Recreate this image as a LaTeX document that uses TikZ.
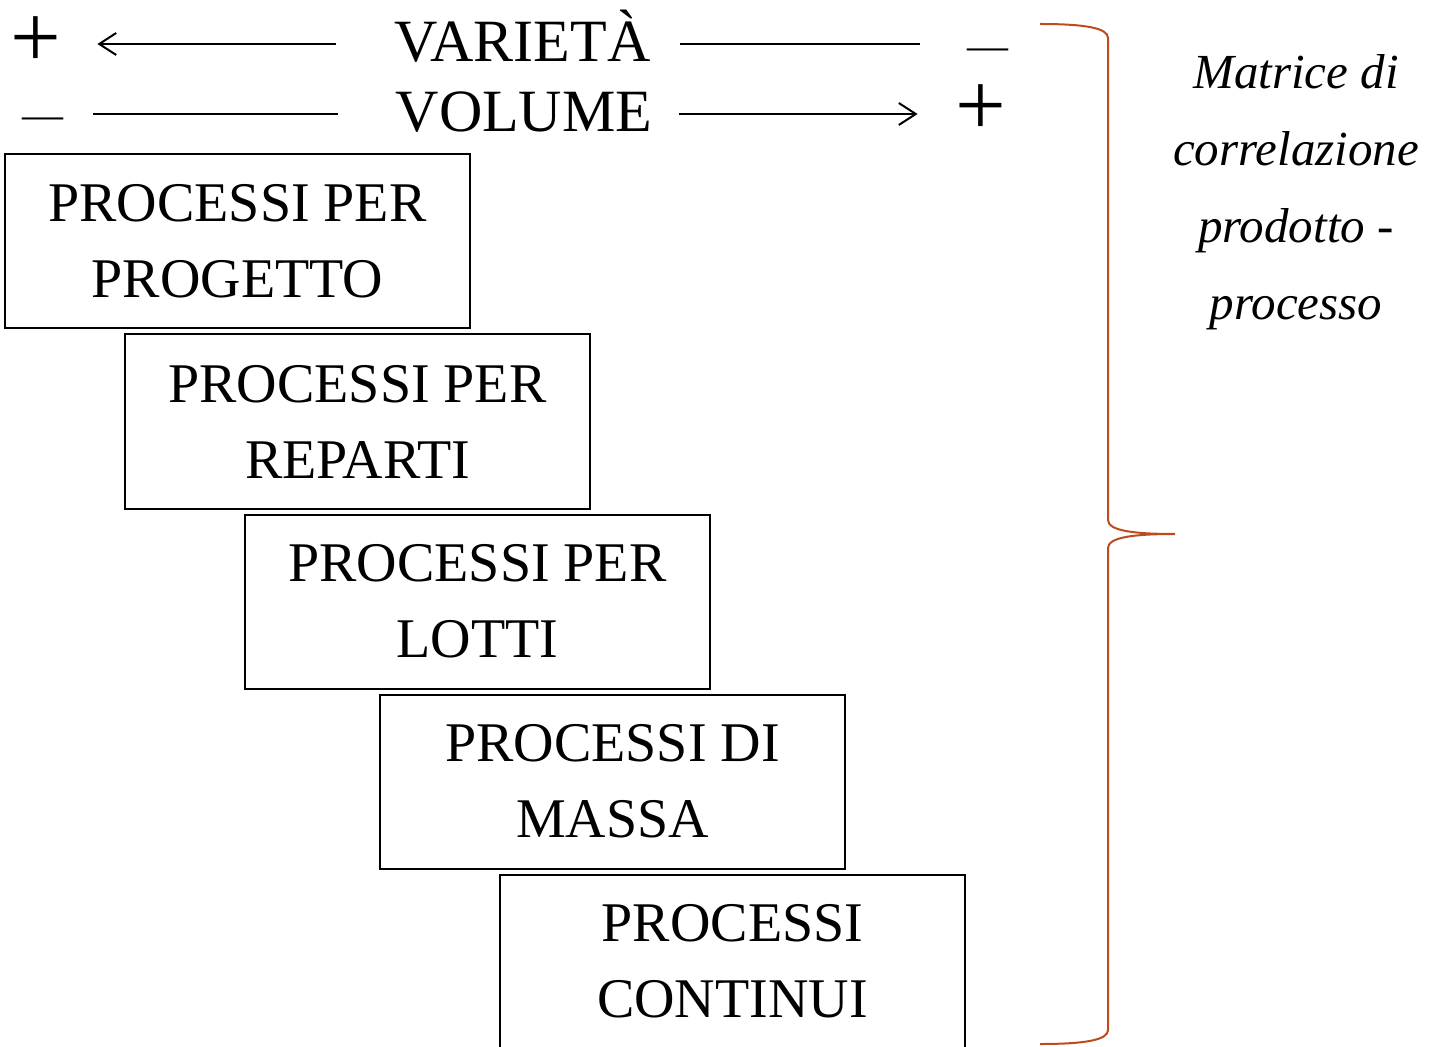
\documentclass[tikz,border=0pt]{standalone}
\usepackage{fontspec}
\setmainfont{Liberation Serif}
\usetikzlibrary{positioning, arrows.meta}
\definecolor{bracerust}{HTML}{BE4B1E}

\begin{document}
\begin{tikzpicture}[x=0.5pt,y=-0.5pt,>={Straight Barb[length=8.5pt,width=11pt]},
    link/.style={line width=1pt},
    proc box/.style={draw,line width=1pt,minimum width=232.5pt,minimum height=87pt,inner sep=0pt,align=center,font=\fontsize{28}{38}\selectfont},
    head text/.style={inner sep=0pt,font=\fontsize{30}{36}\selectfont},
    plus text/.style={inner sep=0pt,font=\fontsize{45}{50}\selectfont},
    minus text/.style={inner sep=0pt,font=\fontsize{20.5}{25}\selectfont},
    note text/.style={inner sep=0pt,align=center,font=\fontsize{24.5}{38.5}\selectfont\itshape}]

\useasboundingbox (0,0) rectangle (1433,1047);

\node[head text, anchor=base]   (var)    at (522.5,62)  {VARIETÀ};
\node[head text, anchor=base]   (vol)    at (524,132)   {VOLUME};
\node[plus text, anchor=base]   (plusA)  at (36,68)     {+};
\node[minus text, anchor=base]  (minusA) at (987.5,60)  {—};
\node[minus text, anchor=base]  (minusB) at (42.5,129)  {—};
\node[plus text, anchor=base]   (plusB)  at (981,136)   {+};

\coordinate (varL) at ([yshift=9pt]var.base west);
\coordinate (varR) at ([yshift=9pt]var.base east);
\coordinate (volL) at ([yshift=9pt]vol.base west);
\coordinate (volR) at ([yshift=9pt]vol.base east);

\draw[link,->,shorten <=29pt,shorten >=17.8pt] (varL) -- (varL -| plusA.east);
\draw[link,shorten <=14.5pt,shorten >=23.5pt] (varR) -- (varR -| minusA.west);
\draw[link,shorten <=28.5pt,shorten >=15pt] (volL) -- (volL -| minusB.east);
\draw[link,->,shorten <=13pt,shorten >=18.8pt] (volR) -- (volR -| plusB.west);

\node[proc box] (progetto) at (237.5,241.5) {PROCESSI PER\\PROGETTO};
\node[proc box] (reparti)  at (357.5,421.5) {PROCESSI PER\\REPARTI};
\node[proc box] (lotti)    at (477.5,601.5) {PROCESSI PER\\LOTTI};
\node[proc box] (massa)    at (612.5,781.5) {PROCESSI DI\\MASSA};
\node[proc box] (continui) at (732.5,961.5) {PROCESSI\\CONTINUI};

\draw[bracerust,line width=1pt] (1040,24) .. controls (1085,24) and (1108,28) .. (1108,38)
    -- (1108,520) .. controls (1108,531) and (1135,534) .. (1175,534)
    .. controls (1135,534) and (1108,537) .. (1108,548)
    -- (1108,1030) .. controls (1108,1040) and (1085,1044) .. (1040,1044);

\node[note text, anchor=north] (matrice) at (1296,54) {Matrice di\\correlazione\\prodotto -\\processo};
\end{tikzpicture}
\end{document}
